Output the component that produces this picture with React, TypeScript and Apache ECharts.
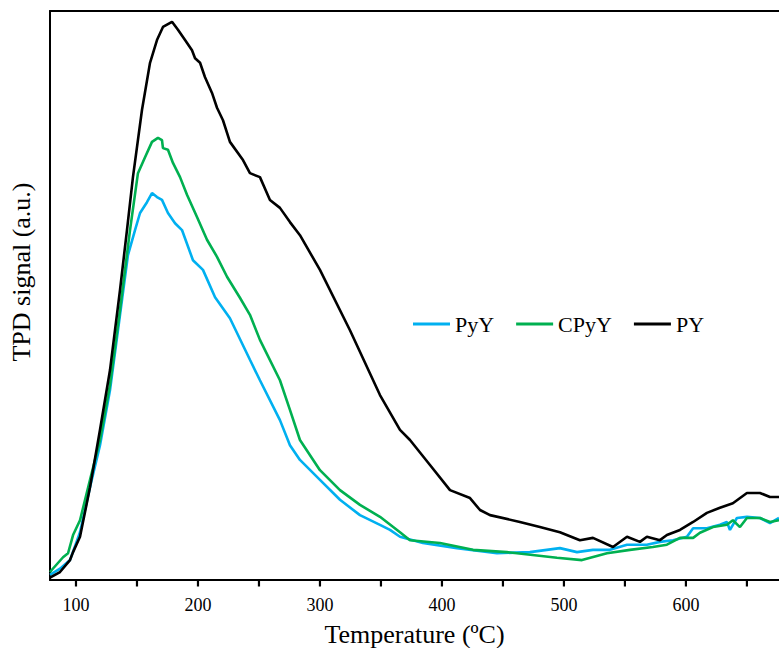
import React, { useEffect, useRef } from "react";
import * as echarts from "echarts";

const seriesNames = ["PyY", "CPyY", "PY"];
const seriesColors = ["#00b0f0", "#00b050", "#000000"];

const xTickValues = [100, 150, 200, 250, 300, 350, 400, 450, 500, 550, 600, 650];
const xLabelValues = [100, 200, 300, 400, 500, 600];

const pyYTemp = [78.7, 86.9, 95.1, 103.3, 111.5, 119.7, 127.9, 136.1, 142.6, 148.4, 152.5, 158.2, 162.3, 166.4, 170.5, 175.4, 181.2, 186.9, 195.9, 204.1, 214.0, 226.2, 242.6, 250.8, 267.2, 275.4, 283.6, 300.0, 316.4, 332.8, 349.2, 357.4, 365.6, 384.4, 412.3, 445.1, 472.1, 496.7, 510.7, 523.8, 537.7, 551.7, 568.0, 578.7, 589.4, 600.8, 605.9, 617.2, 627.9, 633.6, 636.1, 641.8, 650.0, 660.7, 668.9, 676.3];
const pyYSignal = [0.9, 2.0, 3.5, 8.4, 16.3, 23.7, 33.4, 46.6, 57.1, 61.5, 64.5, 66.4, 68.0, 67.3, 66.8, 64.5, 62.7, 61.5, 56.2, 54.5, 49.7, 46.0, 38.7, 35.1, 28.1, 23.7, 21.1, 17.6, 14.1, 11.4, 9.7, 8.8, 7.6, 6.5, 5.6, 4.7, 4.9, 5.6, 4.9, 5.3, 5.3, 6.2, 6.2, 6.7, 7.0, 7.6, 9.1, 9.1, 9.7, 10.2, 8.8, 10.9, 11.1, 10.9, 10.0, 10.9];

const cpyYTemp = [78.7, 80.3, 89.4, 93.5, 97.6, 103.3, 111.5, 119.7, 127.9, 136.1, 144.3, 150.8, 156.6, 162.3, 167.2, 170.5, 171.3, 175.4, 179.5, 185.3, 191.0, 199.2, 207.4, 215.6, 223.8, 234.4, 242.6, 250.8, 267.2, 275.4, 283.6, 300.0, 316.4, 332.8, 349.2, 365.6, 373.8, 398.4, 425.4, 453.3, 494.3, 514.8, 535.3, 554.1, 572.9, 584.4, 595.1, 605.9, 611.5, 622.2, 633.6, 638.5, 644.3, 650.0, 660.7, 668.9, 676.3];
const cpyYSignal = [1.4, 1.8, 4.0, 4.7, 7.9, 10.5, 17.6, 24.6, 34.3, 47.5, 61.5, 71.5, 74.3, 77.0, 77.7, 77.3, 75.9, 75.6, 73.3, 70.8, 67.7, 63.8, 59.8, 56.8, 53.3, 49.6, 46.6, 42.2, 35.1, 29.9, 24.6, 19.3, 15.8, 13.2, 11.1, 8.4, 7.0, 6.5, 5.3, 4.9, 3.9, 3.5, 4.7, 5.3, 5.8, 6.2, 7.4, 7.4, 8.3, 9.3, 9.7, 10.5, 9.3, 10.9, 10.9, 10.2, 10.5];

const pyTemp = [78.7, 86.9, 95.1, 97.6, 103.3, 111.5, 119.7, 127.9, 136.1, 141.8, 146.7, 154.1, 160.7, 166.4, 171.3, 178.7, 183.6, 189.4, 195.1, 197.6, 201.7, 205.7, 211.5, 215.6, 220.5, 226.2, 236.9, 242.6, 250.8, 259.0, 267.2, 275.4, 283.6, 300.0, 324.6, 349.2, 365.6, 373.8, 390.2, 406.6, 423.0, 431.2, 439.4, 463.9, 480.3, 496.7, 513.1, 523.8, 540.2, 551.7, 562.3, 568.0, 578.7, 584.4, 595.1, 605.9, 617.2, 627.9, 638.5, 650.0, 660.7, 668.9, 676.3];
const pySignal = [0.4, 1.4, 3.5, 4.9, 7.6, 16.3, 26.4, 36.9, 51.0, 61.5, 70.8, 82.6, 90.9, 94.9, 97.2, 98.1, 96.7, 94.9, 93.1, 91.7, 90.9, 88.4, 85.6, 83.0, 80.8, 77.0, 73.8, 71.5, 70.8, 66.8, 65.4, 62.9, 60.6, 54.5, 43.9, 32.5, 26.4, 24.6, 20.2, 15.8, 14.4, 12.3, 11.4, 10.2, 9.3, 8.4, 7.0, 7.4, 5.8, 7.6, 6.7, 7.6, 7.0, 7.9, 8.8, 10.2, 11.8, 12.7, 13.5, 15.3, 15.3, 14.6, 14.6];

const temps = [pyYTemp, cpyYTemp, pyTemp];
const signals = [pyYSignal, cpyYSignal, pySignal];

const FONT = "'Liberation Serif', 'Times New Roman', serif";

export default function App() {
  const ref = useRef<HTMLDivElement>(null);
  useEffect(() => {
    if (!ref.current) return;
    const chart = echarts.init(ref.current, null, { renderer: "svg" });
    const xMin = 78.7;
    const xMax = 676.3;
    const lineSeries = seriesNames.map((name, i) => ({
      name,
      type: "line",
      xAxisIndex: 0,
      showSymbol: false,
      symbol: "none",
      smooth: false,
      color: seriesColors[i],
      lineStyle: { color: seriesColors[i], width: 2.6 },
      data: temps[i].map((t, j) => [t, signals[i][j]]),
      z: 2 + i,
    }));
    const tickSeries = {
      name: "ticks",
      type: "custom",
      xAxisIndex: 0,
      clip: false,
      silent: true,
      z: 10,
      data: xTickValues.map((v) => [v, 0]),
      renderItem: (_params: any, api: any) => {
        const p = api.coord([api.value(0), 0]);
        return {
          type: "line",
          shape: { x1: p[0], y1: p[1] + 1, x2: p[0], y2: p[1] + 6.5 },
          style: { stroke: "#000", lineWidth: 2.2 },
        };
      },
    };
    chart.setOption({
      animation: false,
      backgroundColor: "#ffffff",
      grid: { left: 50, right: 0, top: 11, bottom: 68, containLabel: false, outerBoundsMode: "none" },
      legend: {
        left: 408,
        top: 308,
        icon: "rect",
        itemWidth: 37,
        itemHeight: 3,
        itemGap: 22,
        textStyle: { fontFamily: FONT, fontSize: 22, color: "#000" },
        data: seriesNames,
      },
      xAxis: [
        {
          type: "value",
          min: xMin,
          max: xMax,
          name: "Temperature (ºC)",
          nameLocation: "middle",
          nameGap: 41,
          nameTextStyle: { fontFamily: FONT, fontSize: 26, color: "#000" },
          axisLine: { show: true, onZero: false, lineStyle: { color: "#000", width: 2 } },
          axisTick: { show: false },
          axisLabel: { show: true, customValues: xLabelValues, margin: 16, fontFamily: FONT, fontSize: 18, color: "#000" },
          splitLine: { show: false },
        },
        {
          type: "value",
          position: "top",
          min: xMin,
          max: xMax,
          axisLine: { show: true, onZero: false, lineStyle: { color: "#000", width: 2 } },
          axisTick: { show: false },
          axisLabel: { show: false },
          splitLine: { show: false },
        },
      ],
      yAxis: {
        type: "value",
        min: 0,
        max: 100,
        axisLine: { show: true, onZero: false, lineStyle: { color: "#000", width: 2 } },
        axisTick: { show: false },
        axisLabel: { show: false },
        splitLine: { show: false },
      },
      graphic: [
        {
          type: "text",
          x: 21,
          y: 272,
          rotation: Math.PI / 2,
          style: {
            text: "TPD signal (a.u.)",
            font: `26px ${FONT}`,
            fill: "#000",
            textAlign: "center",
            textVerticalAlign: "middle",
          },
        },
      ],
      series: [...lineSeries, tickSeries],
    });
    return () => chart.dispose();
  }, []);
  return (
    <div
      ref={ref}
      style={{ position: "fixed", left: 0, top: 0, width: 779, height: 648, background: "#fff" }}
    />
  );
}
